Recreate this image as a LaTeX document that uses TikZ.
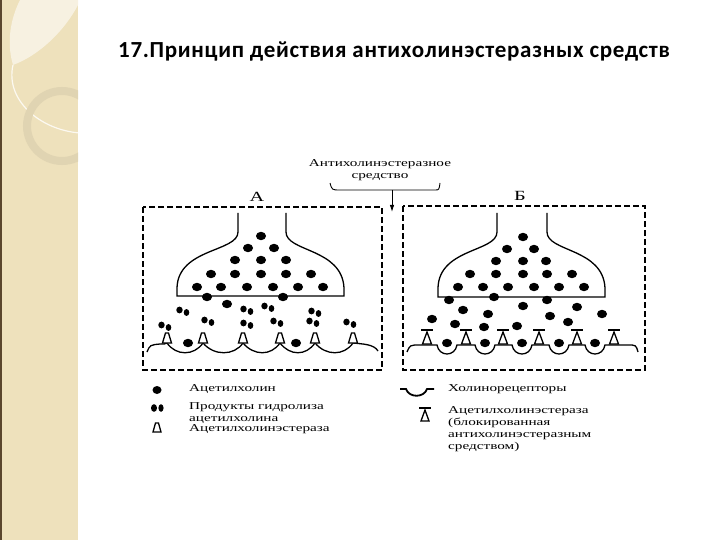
\documentclass[tikz,border=0pt]{standalone}
\usepackage{fontspec}
\usetikzlibrary{arrows.meta}
\setmainfont{Liberation Serif}[FakeStretch=1.45]
\newfontfamily\titlefont{Carlito}[LetterSpace=3]
\definecolor{strip}{RGB}{238,225,188}
\definecolor{ring}{RGB}{224,212,178}
\definecolor{brownline}{RGB}{90,70,45}
\begin{document}
\begin{tikzpicture}[x=1pt,y=-1pt,
  dbox/.style={line width=1.2pt,dash pattern=on 6pt off 3pt},
  lbl/.style={font=\fontsize{10.5}{12}\selectfont,inner sep=0,anchor=west,align=left},
  ln/.style={line width=1.3pt},
  dot/.style={fill=black}]
\useasboundingbox (0,0) rectangle (720,540);
% left decoration
\fill[strip] (0,0) rectangle (78,540);
\begin{scope}
\clip (0,0) rectangle (78,540);
\fill[white!55!strip] (78,0) -- (20,0) .. controls (5,30) and (10,55) .. (13,65) .. controls (40,55) and (65,30) .. (78,5) -- cycle;
\draw[white!80!strip,line width=1.2pt] (13,65) .. controls (5,100) and (40,130) .. (80,133);
\draw[ring,line width=8pt] (62,126) circle[radius=35];
\end{scope}
\fill[brownline] (0,0) rectangle (2,540);
% title
\node[font=\titlefont\bfseries\fontsize{23}{25}\selectfont,anchor=west,inner sep=0] (title) at (118,52) {17.Принцип действия антихолинэстеразных средств};
% top label
\node[font=\fontsize{10.5}{12}\selectfont,align=center,inner sep=0] (drug) at (380,170) {Антихолинэстеразное\\средство};
\coordinate (brL) at (330,183);
\coordinate (brR) at (440,183);
\coordinate (brM) at (392,190);
\coordinate (arrE) at (392,212);
\draw[line width=0.9pt] (brL) .. controls (332,190) .. (340,190) -- (435,190) .. controls (439,190) .. (brR);
\draw[line width=0.9pt,-{Latex[length=7pt,width=4.5pt]}] (brM) -- (arrE);
\node[font=\fontsize{14}{16}\selectfont,inner sep=0] (labA) at (257,197) {А};
\node[font=\fontsize{14}{16}\selectfont,inner sep=0] (labB) at (520,196) {Б};
% boxes
\draw[dbox] (143,207) rectangle (382,370);
\draw[dbox] (403,206) rectangle (645,370);
% terminals
\draw[ln] (238,213) -- (238,232) .. controls (238,252) and (178,248) .. (177,288) -- (177,296) -- (344,296) -- (344,288) .. controls (342,248) and (286,252) .. (286,232) -- (286,213);
\draw[ln] (497,213) -- (497,232) .. controls (497,252) and (439,248) .. (438,288) -- (438,297) -- (605,297) -- (605,288) .. controls (603,248) and (547,252) .. (547,232) -- (547,213);
% dots A
\foreach \x/\y in {261/236,248/248,274/248,235/260,261/260,286/260,211/274,235/274,261/274,286/274,311/274,197/287,221/287,247/287,273/287,298/287,323/287,207/297,283/297,227/304,188/343,296/343}
  \fill[dot] (\x,\y) ellipse[x radius=5,y radius=4.2];
% hydrolysis products A
\foreach \x/\y in {247/310,268/307,183/311,315/312,208/321,247/324,277/322,313/322,165/326,350/323}{
  \fill[dot] (\x-3.5,\y-1) ellipse[x radius=3.2,y radius=3.4];
  \fill[dot] (\x+3.5,\y+1.5) ellipse[x radius=2.8,y radius=3.4];}
% membrane A
\draw[ln] (147,352) .. controls (150,345) .. (160,344) .. controls (165,344) .. (167,343) .. controls (176,356) and (194,356) .. (203,343) .. controls (214,356) and (234,356) .. (243,343) .. controls (254,356) and (271,356) .. (280,343) .. controls (290,356) and (306,356) .. (315,343) .. controls (326,356) and (344,356) .. (353,343) .. controls (362,344) and (374,344) .. (378,351);
% AChE A
\foreach \x in {167,203,243,280,315,353}
  \draw[line width=1.3pt,fill=white] (\x-4.5,343) -- (\x-1.5,333) -- (\x+1.5,333) -- (\x+4.5,343) -- cycle;
% dots B
\foreach \x/\y in {523/237,507/249,534/249,496/261,523/261,546/261,470/274,496/274,523/274,547/274,572/274,458/287,483/287,508/287,534/287,559/287,584/287,449/300,494/297,547/300,463/310,488/314,523/306,550/316,577/307,602/314,432/319,455/324,484/327,517/326,568/322,447/343,485/343,522/343,559/343,595/343}
  \fill[dot] (\x,\y) ellipse[x radius=5,y radius=4.2];
% membrane B
\draw[ln] (407,352) .. controls (410,345) .. (420,345) -- (437,345) .. controls (439,357) and (455,357) .. (457,345) -- (475,345) .. controls (477,357) and (493,357) .. (495,345) -- (512,345) .. controls (514,357) and (530,357) .. (532,345) -- (549,345) .. controls (551,357) and (567,357) .. (569,345) -- (585,345) .. controls (587,357) and (603,357) .. (605,345) -- (628,345) .. controls (636,345) .. (638,352);
% blocked AChE B
\foreach \x in {427,466,503,539,577,614}{
  \draw[line width=1.3pt,fill=white] (\x-4.5,344) -- (\x,332) -- (\x+4.5,344) -- cycle;
  \draw[line width=1.8pt] (\x-6,330) -- (\x+6,330);}
% legend
\fill[dot] (157,390) ellipse[x radius=4.5,y radius=4];
\node[lbl] (l1) at (189,389) {Ацетилхолин};
\fill[dot] (154,408) ellipse[x radius=3,y radius=3.8];
\fill[dot] (161,408) ellipse[x radius=2.6,y radius=3.8];
\node[lbl] (l2) at (189,413) {Продукты гидролиза\\ацетилхолина};
\draw[line width=1.3pt,fill=white] (153,432) -- (155.5,423) -- (158.5,423) -- (161,432) -- cycle;
\node[lbl] (l3) at (189,429) {Ацетилхолинэстераза};
\draw[line width=1.8pt] (400,389) -- (406,389) .. controls (409,398) and (424,398) .. (427,389) -- (434,389);
\node[lbl] (l4) at (448,389) {Холинорецепторы};
\draw[line width=1.3pt,fill=white] (421,421) -- (425,410) -- (429,421) -- cycle;
\draw[line width=1.8pt] (419,408) -- (431,408);
\node[lbl,anchor=north west] (l5) at (448,406) {Ацетилхолинэстераза\\(блокированная\\антихолинэстеразным\\средством)};
\end{tikzpicture}
\end{document}
